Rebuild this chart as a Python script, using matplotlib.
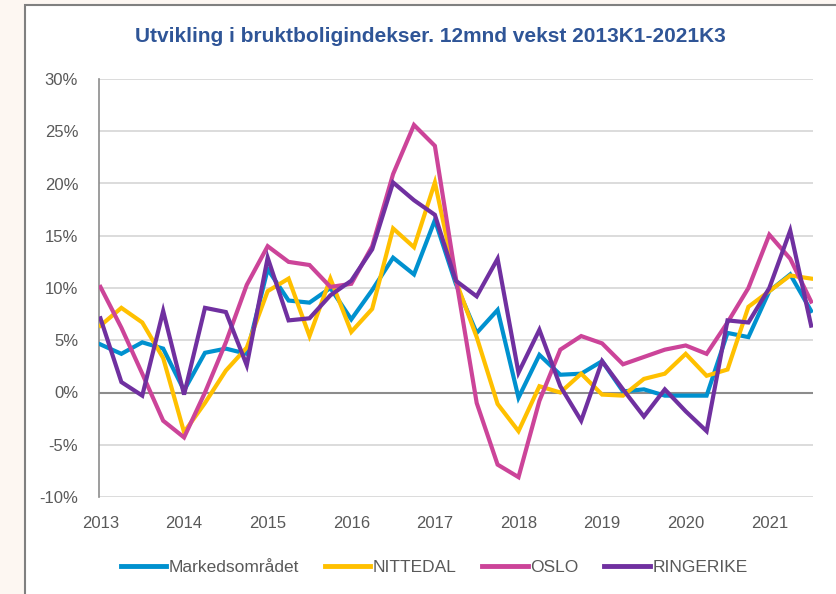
import matplotlib
matplotlib.use("Agg")
import matplotlib.pyplot as plt
from matplotlib.patches import Rectangle
from matplotlib.lines import Line2D

plt.rcParams['font.family'] = ['Liberation Sans', 'DejaVu Sans']

years = ["2013", "2014", "2015", "2016", "2017", "2018", "2019", "2020", "2021"]

markedsomradet = [4.6, 3.7, 4.8, 4.2, 0.2, 3.8, 4.2, 3.7, 11.8, 8.8, 8.6, 10.0,
                  7.0, 9.8, 12.9, 11.3, 16.5, 10.4, 5.7, 7.9, -0.5, 3.6, 1.7, 1.8,
                  3.0, 0.1, 0.3, -0.3, -0.3, -0.3, 5.7, 5.3, 9.7, 11.3, 7.8]
nittedal = [6.4, 8.1, 6.7, 3.3, -3.8, -1.0, 2.1, 4.3, 9.7, 10.9, 5.4, 10.9,
            5.8, 8.0, 15.7, 13.9, 20.1, 10.7, 5.3, -1.1, -3.7, 0.6, 0.0, 1.8,
            -0.2, -0.3, 1.3, 1.8, 3.7, 1.6, 2.2, 8.2, 9.7, 11.2, 10.9]
oslo = [10.1, 6.2, 1.8, -2.7, -4.3, 0.0, 4.8, 10.3, 14.0, 12.5, 12.2, 10.1,
        10.4, 14.0, 20.9, 25.6, 23.6, 11.0, -1.0, -6.9, -8.1, -0.8, 4.1, 5.4,
        4.7, 2.7, 3.4, 4.1, 4.5, 3.7, 6.7, 10.0, 15.1, 12.8, 8.7]
ringerike = [7.1, 1.0, -0.3, 7.8, -0.2, 8.1, 7.7, 2.6, 12.9, 6.9, 7.1, 9.3,
             10.7, 13.7, 20.1, 18.4, 17.0, 10.7, 9.2, 12.8, 1.9, 6.0, 0.6, -2.7,
             3.0, 0.3, -2.3, 0.3, -1.8, -3.7, 6.9, 6.7, 10.0, 15.5, 6.4]

series = [
    ("Markedsområdet", markedsomradet, "#0091CF"),
    ("NITTEDAL", nittedal, "#FFC000"),
    ("OSLO", oslo, "#CC4499"),
    ("RINGERIKE", ringerike, "#7030A0"),
]

W, H = 836, 594
fig = plt.figure(figsize=(W / 100, H / 100), dpi=100)
fig.patch.set_facecolor("#FDF7F2")

# chart frame
frame = Rectangle((25 / W, -0.01), 1.0, 1 - 5 / H + 0.01, transform=fig.transFigure,
                  facecolor="white", edgecolor="#808080", linewidth=1.5, zorder=-5)
fig.patches.append(frame)

ax = fig.add_axes([99 / W, 1 - 497 / H, (813 - 99) / W, (497 - 79) / H])
ax.set_zorder(2)
ax.patch.set_alpha(0)

x = list(range(len(markedsomradet)))
for name, vals, col in series:
    ax.plot(x, vals, color=col, lw=3.0, label=name, solid_joinstyle="miter", zorder=3)

ax.set_ylim(-10, 30)
ax.set_xlim(-0.07, 34.09)
ax.set_yticks(range(-10, 31, 5))
ax.set_yticklabels([f"{v}%" for v in range(-10, 31, 5)])
ax.set_xticks(range(0, 33, 4))
ax.set_xticklabels(years)
ax.grid(axis="y", color="#D9D9D9", lw=1.3, zorder=1)
ax.axhline(0, color="#8C8C8C", lw=1.5, zorder=2)
for s in ["top", "right", "bottom"]:
    ax.spines[s].set_visible(False)
ax.spines["left"].set_color("#8C8C8C")
ax.spines["left"].set_linewidth(1.2)
ax.tick_params(axis="both", length=0, labelsize=12, colors="#595959")
ax.tick_params(axis="y", pad=15)
ax.tick_params(axis="x", pad=14)

fig.text(430 / W, 1 - 36 / H, "Utvikling i bruktboligindekser. 12mnd vekst 2013K1-2021K3",
         ha="center", va="center", fontsize=15, fontweight="bold", color="#2F5597")

handles = [Line2D([0], [0], color=c, lw=3.5) for _, _, c in series]
labels = [n for n, _, _ in series]
leg = fig.legend(handles, labels, loc="center", bbox_to_anchor=(434 / W, 1 - 567 / H), ncol=4,
                 frameon=False, fontsize=12.5, handlelength=2.6, handletextpad=0.15,
                 columnspacing=1.5)
for t in leg.get_texts():
    t.set_color("#595959")

fig.savefig("out.png", dpi=100, facecolor=fig.get_facecolor())
